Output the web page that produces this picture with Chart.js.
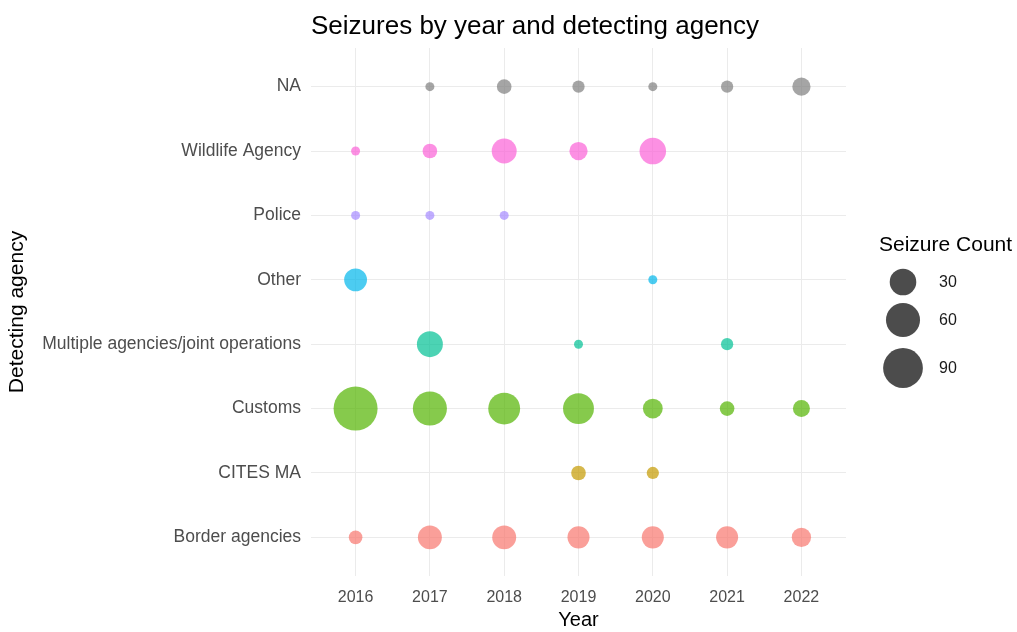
<!DOCTYPE html>
<html>
<head>
<meta charset="utf-8">
<script src="https://cdn.jsdelivr.net/npm/chart.js@4"></script>
<style>
  html, body { margin: 0; padding: 0; background: #fff; }
  #wrap { width: 1017px; height: 632px; }
</style>
</head>
<body>
<div id="wrap"><canvas id="myChart" width="1017" height="632"></canvas></div>
<script>
var years = [2016, 2017, 2018, 2019, 2020, 2021, 2022];
var agencies = ['Border agencies', 'CITES MA', 'Customs', 'Multiple agencies/joint operations',
                'Other', 'Police', 'Wildlife Agency', 'NA'];

// seizure counts per agency, one value per year (null = no seizures)
var border   = [3, 22, 22, 17, 17, 17, 11];
var cites    = [null, null, null, 4, 2, null, null];
var customs  = [116, 60, 50, 46, 12, 4, 7];
var multiple = [null, 28, null, 1, null, 2, null];
var other    = [19, null, null, null, 1, null, null];
var police   = [1, 1, 1, null, null, null, null];
var wildlife = [1, 4, 25, 9, 30, null, null];
var naCounts = [null, 1, 4, 2, 1, 2, 9];

var legendValues = [30, 60, 90];

var counts = [border, cites, customs, multiple, other, police, wildlife, naCounts];
var colors = ['rgba(248,118,109,0.7)', 'rgba(196,154,0,0.7)', 'rgba(83,180,0,0.7)', 'rgba(0,192,148,0.7)',
              'rgba(0,182,235,0.7)', 'rgba(165,138,255,0.7)', 'rgba(251,97,215,0.7)', 'rgba(127,127,127,0.7)'];

var all = [].concat.apply([], counts).filter(function (v) { return v != null; });
var minCount = Math.min.apply(null, all);
var maxCount = Math.max.apply(null, all);

// area scale like ggplot: diameter from 9px to 44px
function radius(v) {
    var s = Math.sqrt((v - minCount) / (maxCount - minCount));
    return (9 + 35 * s) / 2;
}

var datasets = [];
for (var i = 0; i < agencies.length; i++) {
    var pts = [];
    for (var j = 0; j < years.length; j++) {
        if (counts[i][j] != null) {
            pts.push({ x: years[j], y: i + 1, r: radius(counts[i][j]), count: counts[i][j] });
        }
    }
    datasets.push({
        label: agencies[i],
        data: pts,
        backgroundColor: colors[i],
        borderWidth: 0
    });
}

var FONT = "'Liberation Sans', Arial, sans-serif";

var extras = {
    id: 'extras',
    afterDraw: function (chart) {
        var ctx = chart.ctx;
        var area = chart.chartArea;
        var cy = (area.top + area.bottom) / 2;
        ctx.save();
        // title, aligned to the panel
        ctx.fillStyle = '#000';
        ctx.font = '26px ' + FONT;
        ctx.textAlign = 'left';
        ctx.textBaseline = 'middle';
        ctx.fillText('Seizures by year and detecting agency', area.left, 27);

        // size legend
        ctx.font = '21px ' + FONT;
        ctx.fillText('Seizure Count', area.right + 33, cy - 67);
        var ys = [cy - 30, cy + 8, cy + 56];
        ctx.font = '16px ' + FONT;
        for (var k = 0; k < legendValues.length; k++) {
            ctx.beginPath();
            ctx.arc(area.right + 57, ys[k], radius(legendValues[k]), 0, Math.PI * 2);
            ctx.fillStyle = 'rgba(0,0,0,0.7)';
            ctx.fill();
            ctx.fillStyle = '#1a1a1a';
            ctx.fillText(String(legendValues[k]), area.right + 93, ys[k] + 1);
        }
        ctx.restore();
    }
};

var ctx = document.getElementById('myChart').getContext('2d');
var chart = new Chart(ctx, {
    type: 'bubble',
    data: { datasets: datasets },
    plugins: [extras],
    options: {
        responsive: false,
        animation: false,
        layout: { padding: { left: 0, right: 171, top: 48, bottom: 0 } },
        plugins: {
            legend: { display: false },
            tooltip: { enabled: false }
        },
        scales: {
            x: {
                type: 'linear',
                min: years[0] - 0.6,
                max: years[years.length - 1] + 0.6,
                afterBuildTicks: function (s) { s.ticks = years.map(function (v) { return { value: v }; }); },
                afterFit: function (s) { s.height = 56; },
                grid: { color: '#EBEBEB', lineWidth: 1, drawTicks: false },
                border: { display: false },
                ticks: {
                    padding: 12,
                    color: '#4D4D4D',
                    font: { family: FONT, size: 16 },
                    callback: function (v) { return String(v); }
                },
                title: {
                    display: true,
                    text: 'Year',
                    color: '#000',
                    font: { family: FONT, size: 20 },
                    padding: { top: 0, bottom: 0 }
                }
            },
            y: {
                type: 'linear',
                min: 0.4,
                max: agencies.length + 0.6,
                afterBuildTicks: function (s) { s.ticks = agencies.map(function (a, i) { return { value: i + 1 }; }); },
                afterFit: function (s) { s.width = 311; },
                grid: { color: '#EBEBEB', lineWidth: 1, drawTicks: false },
                border: { display: false },
                ticks: {
                    padding: 10,
                    color: '#4D4D4D',
                    font: { family: FONT, size: 17.5 },
                    callback: function (v) { return agencies[v - 1]; }
                },
                title: {
                    display: true,
                    text: 'Detecting agency',
                    color: '#000',
                    font: { family: FONT, size: 21 },
                    padding: { top: 5, bottom: 0 }
                }
            }
        }
    }
});
</script>
</body>
</html>
